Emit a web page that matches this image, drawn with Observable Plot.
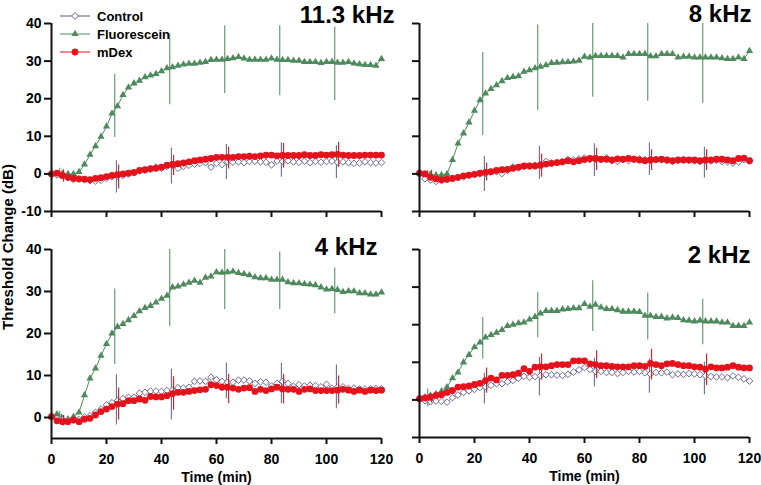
<!DOCTYPE html>
<html>
<head>
<meta charset="utf-8">
<script src="https://cdn.jsdelivr.net/npm/d3@7"></script>
<script src="https://cdn.jsdelivr.net/npm/@observablehq/plot@0.6"></script>
<style>
  body { margin: 0; background: #fff; }
  #chart { position: relative; width: 761px; height: 485px; overflow: hidden; background: #fff;
           font-family: "Liberation Sans", Arial, sans-serif; }
  .panel { position: absolute; }
  #ylab { position: absolute; left: 7px; top: 247px; transform: translate(-50%, -50%) rotate(-90deg);
          white-space: nowrap; font-weight: bold; font-size: 15px; color: #000; }
</style>
</head>
<body>
<div id="chart"><div id="ylab">Threshold Change (dB)</div></div>
<script>
// ---------- data ----------
const time = [0,2,4,6,8,10,12,14,16,18,20,22,24,26,28,30,32,34,36,38,40,42,44,46,48,50,52,54,56,58,60,
  62,64,66,68,70,72,74,76,78,80,82,84,86,88,90,92,94,96,98,100,102,104,106,108,110,112,114,116,118,120];
const xTicks = [0, 20, 40, 60, 80, 100, 120];
const seriesNames = ["Control", "Fluorescein", "mDex"];
const panelTitles = ["11.3 kHz", "8 kHz", "4 kHz", "2 kHz"];

// error-bar times (Fluorescein, Control, mDex)
const errTimeF = [3, 23, 43, 63, 83, 103];
const errTimeC = [3.6, 23.6, 43.6, 63.6, 83.6, 103.6];
const errTimeM = [4.4, 24.4, 44.4, 64.4, 84.4, 104.4];

// 11.3 kHz
const fluo11 = [0,0,0,0,0,0.5,2.5,5.1,7.4,9.9,12.6,16.1,18,21,23,24.1,24.8,25.7,26.2,26.6,27.3,28.1,28.4,28.8,29.1,29.3,29.3,29.6,29.8,30.3,30.4,
  30.4,30.6,30.8,31.1,30.7,30.4,30.4,30.4,30.4,30.7,30.4,30.3,30.3,30.1,30.1,29.8,29.8,29.8,29.5,29.8,29.8,29.6,29.6,29.8,29.4,29.2,29.0,29.0,28.8,30.6];
const ctrl11 = [0,-0.3,-0.5,-1.0,-1.5,-1.4,-1.5,-1.8,-1.9,-1.7,-1.2,-0.8,-0.6,-0.4,0,0.3,0.8,1.0,1.2,1.8,1.5,2.0,2.2,1.5,2.0,2.3,2.6,2.8,3.0,1.8,2.8,
  2.5,3.3,3.1,3.2,3.0,3.3,3.4,3.2,3.1,2.4,3.4,3.3,3.5,3.2,3.1,3.4,3.0,3.3,3.1,3.3,3.4,3.1,3.2,3.0,2.8,2.9,3.2,3.0,2.9,3.0];
const mdex11 = [0,0.2,-0.4,-0.9,-1.2,-1.3,-1.4,-1.5,-1.2,-1.0,-0.7,-0.4,-0.2,0,0.2,0.4,0.9,1.1,1.4,1.5,1.8,2.3,2.5,2.7,2.9,3.2,3.5,3.7,3.9,4.1,4.4,
  4.4,4.4,4.4,4.6,4.6,4.7,4.6,4.8,5.0,5.0,4.8,4.9,4.9,4.9,4.9,5.1,4.9,4.9,5.1,5.0,5.1,5.2,5.0,4.9,4.9,4.9,5.0,5.0,5.0,5.0];
const fluoLo11 = [-1.2, 9.7, 18.4, 21.4, 20.8, 19.5], fluoHi11 = [1.5, 26.5, 37.2, 39.4, 39.4, 39.1];
const ctrlLo11 = [-1.5, -5.1, -2.7, -1.5, -0.9, -1.2], ctrlHi11 = [0.8, 3.5, 6.8, 7.8, 8.3, 7.5];
const mdexLo11 = [-2.2, -4.0, -0.4, 1.3, 1.6, 1.8], mdexHi11 = [1.1, 2.4, 4.9, 7.1, 8.1, 8.4];

// 8 kHz
const fluo8 = [0.2,0,-0.2,-0.3,-0.3,0,3.7,8.1,10.8,13.7,16.8,19.6,21.4,22.6,23.6,24.7,25.5,25.8,26.0,27.2,27.6,28.1,28.5,28.9,29.5,29.6,29.7,29.8,29.9,30.1,31.2,
  31.0,31.4,31.4,31.4,31.4,31.4,31.0,31.9,31.9,31.9,31.9,31.3,31.3,31.9,31.9,31.9,31.0,31.2,31.2,31.0,31.0,31.0,31.0,31.0,30.8,30.6,30.6,31.0,30.6,32.7];
const ctrl8 = [0,-1.3,-1.6,-2.0,-1.7,-1.5,-1.2,-1.0,-0.8,-0.4,-0.1,0,0.2,0.5,0.6,0.1,1.0,1.8,1.6,2.0,2.1,2.3,2.5,3.3,2.9,3.0,3.2,3.8,3.7,4.0,4.2,
  3.8,3.9,3.8,4.3,3.5,3.3,3.8,3.5,3.9,4.0,3.8,3.7,3.9,3.7,3.6,3.3,3.6,3.8,3.6,3.4,3.3,3.5,3.4,3.6,3.3,3.2,2.9,3.2,3.8,3.5];
const mdex8 = [0.2,0,-0.9,-1.3,-1.6,-1.4,-1.2,-0.9,-0.5,-0.3,-0.1,0.2,0.4,0.6,0.9,1.1,1.2,1.5,1.8,2.1,2.1,2.1,2.3,2.6,2.8,3.0,3.2,3.5,3.2,3.5,3.8,
  4.1,4.1,3.9,3.9,3.7,4.0,3.9,4.1,3.9,3.7,3.5,3.7,3.8,3.9,3.7,3.5,3.7,3.7,3.7,3.7,3.5,3.7,3.7,3.9,3.9,3.7,3.5,4.1,4.2,3.5];
const fluoLo8 = [-1.0, 10.2, 16.8, 20.4, 19.3, 18.8], fluoHi8 = [1.0, 32.3, 39.6, 40, 40, 40];
const ctrlLo8 = [-2.0, -4.7, -1.5, -0.7, -0.4, -1.1], ctrlHi8 = [0.5, 4.6, 7.3, 8.0, 8.3, 7.1];
const mdexLo8 = [-1.5, -1.9, -0.9, 0.9, 0.9, 0.9], mdexHi8 = [1.0, 2.9, 5.3, 6.8, 6.4, 6.4];

// 4 kHz
const fluo4 = [0.2,0.8,-0.2,-0.4,0.2,1.2,5.3,9.3,11.7,14.7,17.5,20.0,21.6,22.3,23.2,24.2,25.3,26.1,26.6,27.4,28.3,29.0,31.0,31.2,31.7,32.1,32.6,32.1,33.3,33.6,34.6,
  34.5,34.6,34.8,34.4,34.2,33.9,33.4,33.2,33.2,32.8,32.8,32.8,32.2,32.0,32.0,31.8,31.7,31.5,31.0,30.5,30.6,30.4,29.9,30.1,30.1,29.6,29.6,29.3,29.3,29.8];
const ctrl4 = [0.2,-0.3,-0.6,-0.8,-0.6,-0.5,0.1,0.4,1.2,2.0,3.0,3.5,4.0,4.5,4.8,4.8,5.8,6.0,6.3,6.3,6.2,6.4,6.5,7.1,7.0,7.2,8.6,8.7,8.6,9.6,9.0,
  8.6,8.4,8.4,8.9,8.9,8.7,8.1,8.5,8.4,7.5,8.1,8.6,8.1,7.4,7.8,7.5,7.7,7.6,7.3,7.9,7.0,7.2,7.3,6.9,7.0,6.8,6.8,6.8,6.9,6.8];
const mdex4 = [0.2,-0.8,-1.0,-1.0,-0.6,-1.0,-0.4,-0.2,0.6,1.4,2.0,2.6,3.2,3.3,4.0,4.0,4.4,4.1,5.0,4.9,4.9,5.2,5.7,6.0,6.0,6.2,6.4,6.6,6.7,7.8,7.6,
  7.2,7.2,7.0,6.7,7.0,7.1,6.2,6.7,6.4,6.8,7.2,6.8,6.7,6.7,6.2,6.7,6.8,6.4,6.4,6.4,6.4,6.5,6.7,6.5,6.2,6.5,6.2,6.5,6.4,6.5];
const fluoLo4 = [-1.5, 12.6, 21.6, 25.7, 25.7, 24.7], fluoHi4 = [1.5, 30.6, 40, 40, 39.4, 35.6];
const ctrlLo4 = [-1.5, -1.8, -0.6, 4.4, 3.3, 2.1], ctrlHi4 = [0.8, 10.2, 11.5, 13.0, 13.0, 12.5];
const mdexLo4 = [-2.0, -0.6, 1.7, 3.3, 3.2, 3.2], mdexHi4 = [0.5, 7.0, 9.7, 10.3, 10.3, 9.9];

// 2 kHz
const fluo2 = [0.3,0.7,1.2,1.6,2.3,3.4,5.8,7.3,10.0,12.0,14.0,15.3,16.6,17.3,17.9,18.6,19.7,20.0,20.4,20.6,21.4,22.1,23.0,23.7,23.7,23.7,24.1,24.2,24.4,24.4,25.5,
  24.8,25.3,24.6,24.2,24.2,23.9,23.5,23.5,23.5,23.4,22.4,22.4,22.1,22.1,21.7,21.9,21.8,21.2,21.1,20.9,21.1,20.9,20.9,20.9,20.6,20.6,19.7,19.7,19.7,20.6];
const ctrl2 = [0.3,-0.2,-0.5,-0.3,-0.4,-0.6,0.6,1.3,2.0,2.4,2.8,3.3,3.5,3.9,4.3,4.3,4.8,5.2,5.8,6.3,6.0,6.2,6.4,6.7,6.7,6.6,6.5,6.8,7.4,8.0,8.6,
  8.1,7.6,7.6,7.3,7.3,7.0,7.3,7.6,7.4,7.6,7.2,6.9,7.3,7.2,7.4,6.7,6.9,6.8,7.0,6.9,6.7,6.4,6.2,6.1,6.1,5.9,6.4,6.0,5.6,5.0];
const mdex2 = [0.3,0.5,0.7,1.2,1.4,2.0,2.5,3.4,3.5,3.7,4.1,4.4,5.1,5.8,5.3,6.5,6.5,6.7,7.1,8.3,7.6,8.7,8.8,8.8,9.1,9.4,9.4,9.4,10.4,10.4,10.4,
  9.6,9.4,9.1,9.1,8.9,8.8,8.8,8.8,9.1,9.1,8.9,9.7,9.4,9.1,9.6,9.7,9.4,9.1,9.1,8.8,8.7,8.2,8.8,8.5,8.5,8.7,9.1,8.7,8.5,8.5];
const fluoLo2 = [-1.9, 10.9, 16.5, 18.2, 15.9, 14.7], fluoHi2 = [2.9, 21.9, 28.6, 31.7, 28.4, 26.8];
const ctrlLo2 = [-1.5, -1.1, 1.1, 3.4, 1.8, 1.4], ctrlHi2 = [1.0, 7.1, 11.3, 11.1, 10.9, 10.0];
const mdexLo2 = [-0.8, 1.8, 5.3, 5.6, 5.3, 3.8], mdexHi2 = [1.5, 8.5, 12.2, 13.1, 13.5, 12.2];

const yTicksFull = [-10, 0, 10, 20, 30, 40];
const yTicksShort = [0, 10, 20, 30, 40];

// ---------- styles ----------
const FONT = '"Liberation Sans", Arial, sans-serif';
const GREEN = "#4f8a5e", GREEN_BAR = "#5d8f68";
const CTRL = "#5a5a8c", CTRL_BAR = "#6c6c90";
const RED = "#e5111b", RED_BAR = "#e0141c";

function rows(vals) { return time.map((t, i) => ({t, v: vals[i]})); }
function bars(ts, lo, hi) { return ts.map((t, i) => ({t, lo: lo[i], hi: hi[i]})); }

function makePanel(p) {
  const fl = rows(p.fluo), ct = rows(p.ctrl), md = rows(p.mdex);
  const marks = [
    Plot.ruleX(bars(errTimeF, p.fLo, p.fHi), {x: "t", y1: "lo", y2: "hi", stroke: GREEN_BAR, strokeWidth: 1.1}),
    Plot.ruleX(bars(errTimeC, p.cLo, p.cHi), {x: "t", y1: "lo", y2: "hi", stroke: CTRL_BAR, strokeWidth: 1.1}),
    Plot.line(fl, {x: "t", y: "v", stroke: GREEN, strokeWidth: 1}),
    Plot.dot(fl, {x: "t", y: "v", symbol: "triangle", r: 2.7, fill: GREEN, stroke: "none"}),
    Plot.line(ct, {x: "t", y: "v", stroke: CTRL, strokeWidth: 0.7}),
    Plot.dot(ct, {x: "t", y: "v", symbol: "diamond2", r: 3, fill: "white", stroke: CTRL, strokeWidth: 0.9}),
    Plot.line(md, {x: "t", y: "v", stroke: RED, strokeWidth: 1}),
    Plot.dot(md, {x: "t", y: "v", r: 3.4, fill: RED, stroke: "none"}),
    Plot.ruleX(bars(errTimeM, p.mLo, p.mHi), {x: "t", y1: "lo", y2: "hi", stroke: RED_BAR, strokeWidth: 1.1}),
    Plot.ruleX([0], {stroke: "#111", strokeWidth: 2}),
    Plot.ruleY([p.yDomain[0]], {stroke: "#111", strokeWidth: 2}),
    Plot.axisX({ticks: xTicks, tickSize: 6, tickPadding: 10, stroke: "#111", strokeWidth: 2,
      tickFormat: p.xLabels ? (d => d) : (() => ""), label: null, fontSize: 14, fontWeight: "bold"}),
    Plot.axisY({ticks: p.yTicks, tickSize: 7, tickPadding: 3, stroke: "#111", strokeWidth: 2,
      tickFormat: p.yLabels ? (d => d) : (() => ""), label: null, fontSize: 14, fontWeight: "bold"}),
    Plot.text([p.title], {frameAnchor: "top-right", textAnchor: "end", lineAnchor: "bottom",
      dx: p.tdx, dy: p.tdy, fontSize: 24, fontWeight: "bold", fill: "#000"})
  ];
  if (p.xLabels) {
    marks.push(Plot.text(["Time (min)"], {frameAnchor: "bottom", lineAnchor: "middle", dy: 39,
      fontSize: 14, fontWeight: "bold", fill: "#000"}));
  }
  const svg = Plot.plot({
    width: p.w, height: p.h,
    marginLeft: p.ml, marginRight: p.mr, marginTop: p.mt, marginBottom: p.mb,
    style: {background: "transparent", fontFamily: FONT, fontSize: "14px", fontWeight: "bold", color: "#000", overflow: "visible"},
    x: {domain: [0, 120], label: null},
    y: {domain: p.yDomain, label: null},
    marks
  });
  const wrap = document.createElement("div");
  wrap.className = "panel";
  wrap.style.left = p.left + "px";
  wrap.style.top = p.top + "px";
  wrap.appendChild(svg);
  document.getElementById("chart").appendChild(wrap);
}

const panels = [
  {title: panelTitles[0], fluo: fluo11, ctrl: ctrl11, mdex: mdex11,
   fLo: fluoLo11, fHi: fluoHi11, cLo: ctrlLo11, cHi: ctrlHi11, mLo: mdexLo11, mHi: mdexHi11,
   yDomain: [-10, 40], yTicks: yTicksFull, xLabels: false, yLabels: true,
   left: 0, top: 0, w: 380, h: 240, ml: 51, mr: -1, mt: 23, mb: 29, tdx: 13, tdy: -1},
  {title: panelTitles[1], fluo: fluo8, ctrl: ctrl8, mdex: mdex8,
   fLo: fluoLo8, fHi: fluoHi8, cLo: ctrlLo8, cHi: ctrlHi8, mLo: mdexLo8, mHi: mdexHi8,
   yDomain: [-10, 40], yTicks: yTicksFull, xLabels: false, yLabels: false,
   left: 380, top: 0, w: 381, h: 240, ml: 39, mr: 12, mt: 23, mb: 29, tdx: 2, tdy: -2},
  {title: panelTitles[2], fluo: fluo4, ctrl: ctrl4, mdex: mdex4,
   fLo: fluoLo4, fHi: fluoHi4, cLo: ctrlLo4, cHi: ctrlHi4, mLo: mdexLo4, mHi: mdexHi4,
   yDomain: [-5, 40], yTicks: yTicksShort, xLabels: true, yLabels: true,
   left: 0, top: 240, w: 380, h: 245, ml: 51, mr: -1, mt: 9, mb: 47, tdx: -4, tdy: 5},
  {title: panelTitles[3], fluo: fluo2, ctrl: ctrl2, mdex: mdex2,
   fLo: fluoLo2, fHi: fluoHi2, cLo: ctrlLo2, cHi: ctrlHi2, mLo: mdexLo2, mHi: mdexHi2,
   yDomain: [-10, 40], yTicks: yTicksFull, xLabels: true, yLabels: false,
   left: 380, top: 240, w: 381, h: 245, ml: 39, mr: 12, mt: 9, mb: 48, tdx: 1, tdy: 13}
];
panels.forEach(makePanel);

// ---------- legend ----------
const legColors = [CTRL, GREEN, RED];
const legSymbols = [d3.symbol(d3.symbolDiamond2, 3 * 3 * Math.PI), d3.symbol(d3.symbolTriangle, 2.7 * 2.7 * Math.PI), null];
const leg = d3.select("#chart").append("svg")
  .attr("width", 170).attr("height", 62)
  .style("position", "absolute").style("left", "0px").style("top", "0px").style("overflow", "visible");
seriesNames.forEach((name, i) => {
  const y = 16 + i * 18;
  const g = leg.append("g").attr("transform", `translate(0,${y})`);
  g.append("line").attr("x1", 60).attr("x2", 90).attr("y1", 0).attr("y2", 0)
    .attr("stroke", legColors[i]).attr("stroke-width", 1);
  if (i === 0) {
    g.append("path").attr("d", legSymbols[0]()).attr("transform", "translate(75,0)")
      .attr("fill", "white").attr("stroke", CTRL).attr("stroke-width", 0.9);
  } else if (i === 1) {
    g.append("path").attr("d", legSymbols[1]()).attr("transform", "translate(75,0)").attr("fill", GREEN);
  } else {
    g.append("circle").attr("cx", 75).attr("cy", 0).attr("r", 3.4).attr("fill", RED);
  }
  g.append("text").attr("x", 97).attr("y", 0).attr("dy", "0.35em")
    .attr("font-family", FONT).attr("font-size", 13).attr("font-weight", "bold").attr("fill", "#000")
    .text(name);
});
</script>
</body>
</html>
